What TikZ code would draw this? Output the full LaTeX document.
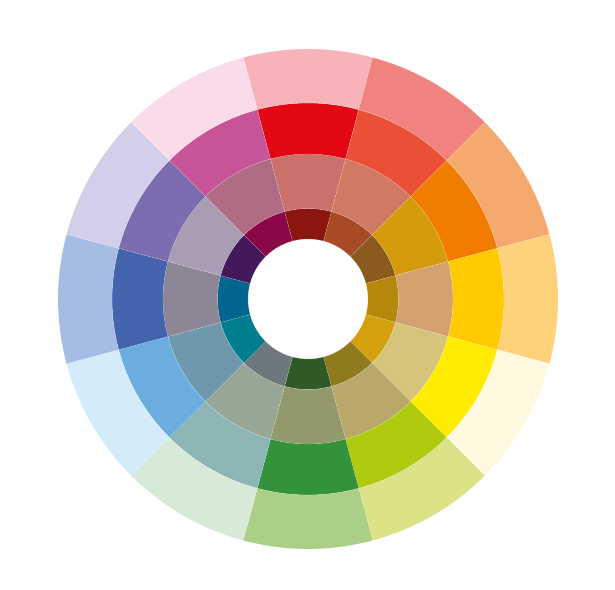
\documentclass[tikz,border=0pt]{standalone}
\usetikzlibrary{calc}
% outer ring
\definecolor{o0}{HTML}{F7B3B9}
\definecolor{o1}{HTML}{F0837F}
\definecolor{o2}{HTML}{F6A96E}
\definecolor{o3}{HTML}{FED17B}
\definecolor{o4}{HTML}{FFFADF}
\definecolor{o5}{HTML}{DCE286}
\definecolor{o6}{HTML}{ABCF87}
\definecolor{o7}{HTML}{D7EAD8}
\definecolor{o8}{HTML}{D4EBFA}
\definecolor{o9}{HTML}{A5BDE4}
\definecolor{o10}{HTML}{D3CFEA}
\definecolor{o11}{HTML}{F9DBEA}
% third ring
\definecolor{t0}{HTML}{E30613}
\definecolor{t1}{HTML}{EA5035}
\definecolor{t2}{HTML}{F07C00}
\definecolor{t3}{HTML}{FFCA00}
\definecolor{t4}{HTML}{FFEC00}
\definecolor{t5}{HTML}{B0CA0E}
\definecolor{t6}{HTML}{33923A}
\definecolor{t7}{HTML}{8CB6B6}
\definecolor{t8}{HTML}{6BADDF}
\definecolor{t9}{HTML}{4465AE}
\definecolor{t10}{HTML}{7C6CB0}
\definecolor{t11}{HTML}{C85498}
% second ring
\definecolor{s0}{HTML}{CA716C}
\definecolor{s1}{HTML}{D07A63}
\definecolor{s2}{HTML}{D49C0C}
\definecolor{s3}{HTML}{D4A170}
\definecolor{s4}{HTML}{D6C47A}
\definecolor{s5}{HTML}{B9A76B}
\definecolor{s6}{HTML}{93996B}
\definecolor{s7}{HTML}{98A696}
\definecolor{s8}{HTML}{6E98AD}
\definecolor{s9}{HTML}{8D8696}
\definecolor{s10}{HTML}{A89DB2}
\definecolor{s11}{HTML}{B06C84}
% first ring
\definecolor{f0}{HTML}{8B150F}
\definecolor{f1}{HTML}{A94A26}
\definecolor{f2}{HTML}{8B5A1E}
\definecolor{f3}{HTML}{B5870A}
\definecolor{f4}{HTML}{D5A00E}
\definecolor{f5}{HTML}{8F7A1E}
\definecolor{f6}{HTML}{2F5A26}
\definecolor{f7}{HTML}{6C787B}
\definecolor{f8}{HTML}{007E8E}
\definecolor{f9}{HTML}{00658F}
\definecolor{f10}{HTML}{44185A}
\definecolor{f11}{HTML}{8A0848}
\tikzset{seg/.style={draw=white, draw opacity=0.35, line width=0.3pt}}
\begin{document}
\begin{tikzpicture}[x=1pt,y=1pt]
\useasboundingbox (0,0) rectangle (615,589);
\coordinate (c) at (308,290);
\foreach \ring/\ri/\ro in {f/60/90.5, s/90.5/145, t/145/196, o/196/250}{
  \foreach \i in {0,...,11}{
    \pgfmathsetmacro{\aone}{75-30*\i}
    \pgfmathsetmacro{\atwo}{105-30*\i}
    \fill[seg, fill=\ring\i] ($(c)+(\aone:\ri)$) arc[start angle=\aone, end angle=\atwo, radius=\ri]
      -- ($(c)+(\atwo:\ro)$) arc[start angle=\atwo, end angle=\aone, radius=\ro] -- cycle;
  }
}
\end{tikzpicture}
\end{document}
